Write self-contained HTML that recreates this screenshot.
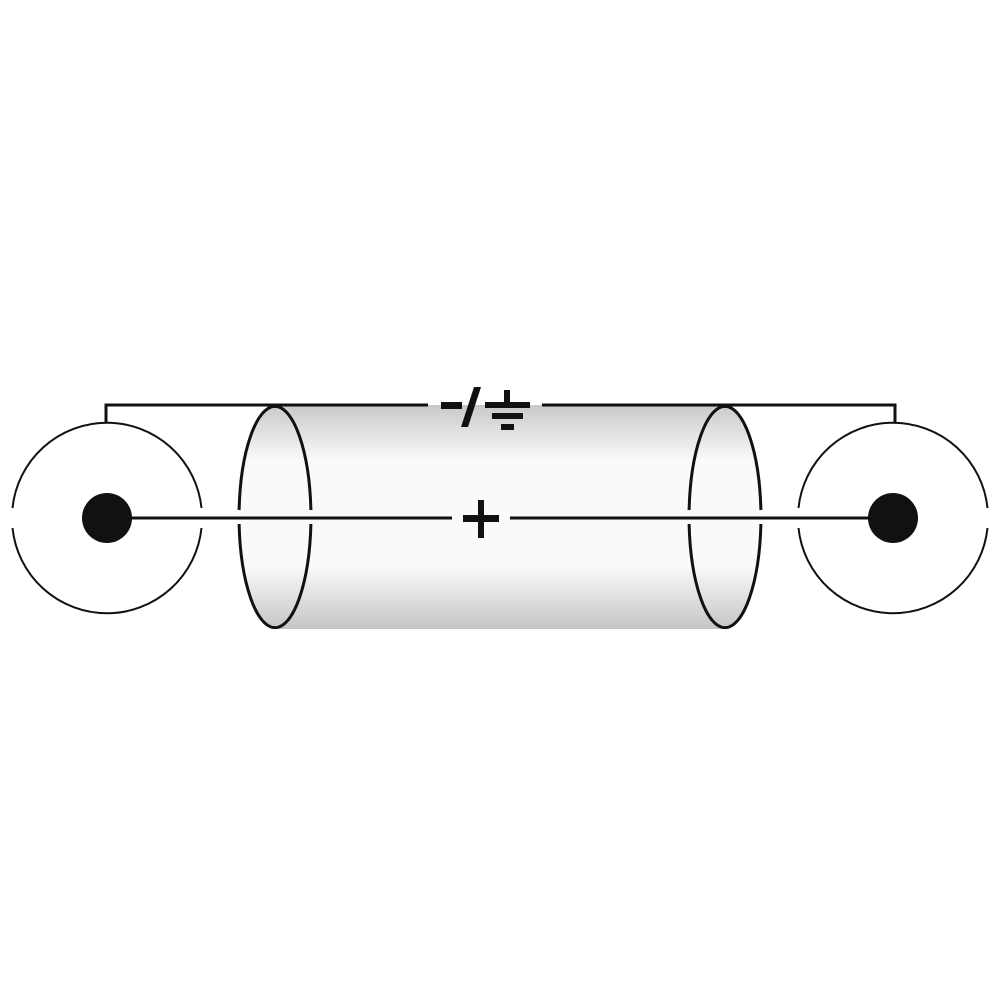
<!DOCTYPE html>
<html><head><style>html,body{margin:0;padding:0;background:#fff;width:1000px;height:1000px;overflow:hidden}</style></head>
<body>
<svg width="1000" height="1000" viewBox="0 0 1000 1000" xmlns="http://www.w3.org/2000/svg">
<defs>
<linearGradient id="g" x1="0" y1="0" x2="0" y2="1">
<stop offset="0" stop-color="#c8c9c9"/>
<stop offset="0.25" stop-color="#fafafa"/>
<stop offset="0.72" stop-color="#fafafa"/>
<stop offset="1" stop-color="#c4c5c5"/>
</linearGradient>
</defs>
<rect x="275" y="405" width="450" height="224" fill="url(#g)"/>
<ellipse cx="275" cy="517" rx="36" ry="112" fill="url(#g)"/>
<ellipse cx="725" cy="517" rx="36" ry="112" fill="url(#g)"/>
<g fill="none" stroke="#111" stroke-width="3">
<path d="M239.1,510 A36,112 0 0 1 310.9,510"/>
<path d="M239.1,524 A36,112 0 0 0 310.9,524"/>
<path d="M689.1,510 A36,112 0 0 1 760.9,510"/>
<path d="M689.1,524 A36,112 0 0 0 760.9,524"/>
</g>
<g fill="none" stroke="#111" stroke-width="2">
<path d="M12.5,508 A95,95 0 0 1 201.5,508"/>
<path d="M12.5,528 A95,95 0 0 0 201.5,528"/>
<path d="M798.5,508 A95,95 0 0 1 987.5,508"/>
<path d="M798.5,528 A95,95 0 0 0 987.5,528"/>
</g>
<circle cx="107" cy="518" r="25" fill="#111"/>
<circle cx="893" cy="518" r="25" fill="#111"/>
<g fill="none" stroke="#111" stroke-width="3">
<polyline points="106,423 106,405 428,405"/>
<polyline points="542,405 895,405 895,423"/>
<line x1="130" y1="518" x2="452" y2="518"/>
<line x1="510" y1="518" x2="870" y2="518"/>
</g>
<g fill="#111">
<rect x="441" y="402" width="21" height="7"/>
<polygon points="474,387 481,387 468,427 461,427"/>
<rect x="504" y="390" width="6" height="14"/>
<rect x="485" y="402" width="45" height="6"/>
<rect x="492" y="413" width="31" height="6"/>
<rect x="501" y="424" width="13" height="6"/>
<rect x="463" y="515" width="36" height="7"/>
<rect x="478" y="500" width="6" height="38"/>
</g>
</svg>
</body></html>
